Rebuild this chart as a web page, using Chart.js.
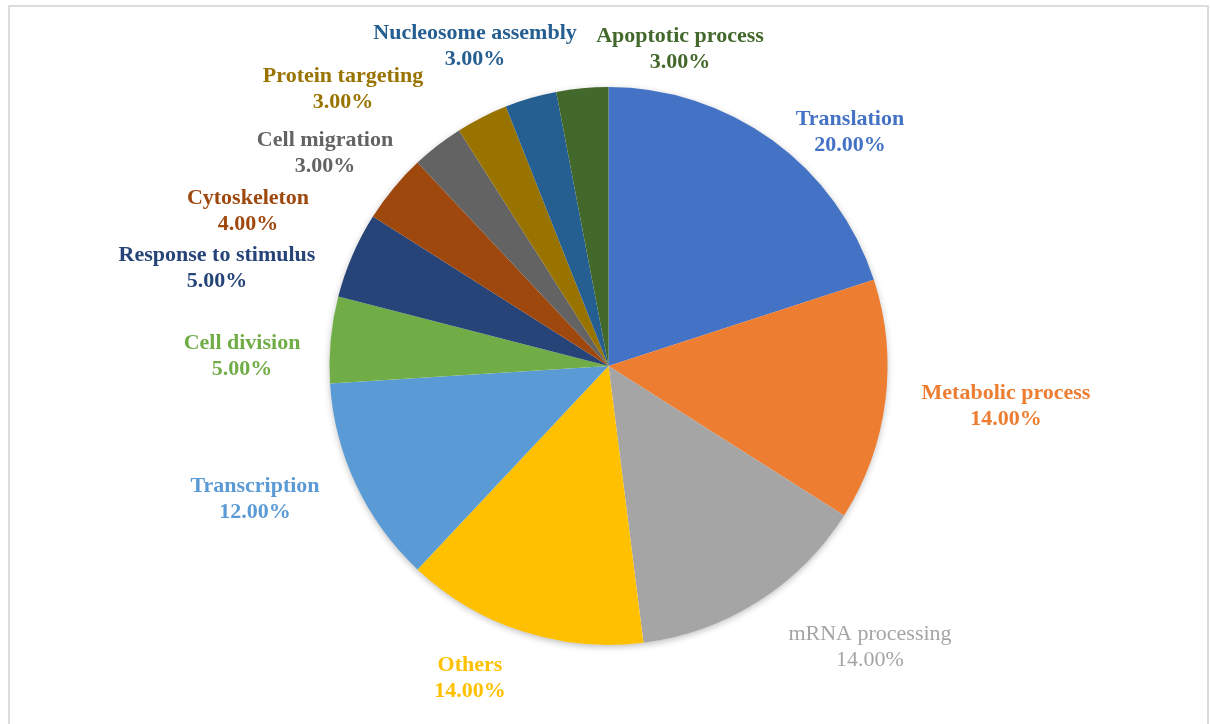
<!DOCTYPE html>
<html><head><meta charset="utf-8">
<script src="https://cdn.jsdelivr.net/npm/chart.js@4/dist/chart.umd.min.js"></script>
<style>
html,body{margin:0;padding:0;background:#fff;}
#wrap{position:relative;width:1210px;height:724px;overflow:hidden;}
#frame{position:absolute;left:8px;top:5px;width:1197px;height:730px;border:2px solid #dcdcdc;pointer-events:none;}
canvas{position:absolute;left:0;top:0;}
</style></head>
<body><div id="wrap"><canvas id="c" width="1210" height="724"></canvas><div id="frame"></div></div>
<script>
const categories = ["Translation","Metabolic process","mRNA processing","Others","Transcription","Cell division","Response to stimulus","Cytoskeleton","Cell migration","Protein targeting","Nucleosome assembly","Apoptotic process"];
const percentages = [20,14,14,14,12,5,5,4,3,3,3,3];
const sliceColors = ["#4472C4","#ED7D31","#A5A5A5","#FFC000","#5B9BD5","#70AD47","#264478","#9E480E","#636363","#997300","#255E91","#43682B"];

// label block centres relative to pie centre, in units of radius
const labelLayout = [
  [241.5,-234],[397.5,40],[261.5,281],[-138.5,312],[-353.5,133],[-366.5,-10],
  [-391.5,-98],[-360.5,-155],[-283.5,-213],[-265.5,-277],[-133.5,-320],[71.5,-317]
].map(p=>[p[0]/279,p[1]/279]);
const labelBold = [true,true,false,true,true,true,true,true,true,true,true,true];
const labelColors = ["#4472C4","#ED7D31","#A5A5A5","#FFC000","#5B9BD5","#70AD47","#264478","#9E480E","#636363","#997300","#255E91","#43682B"];

const shadowPlugin = {
  id:'shadow',
  beforeDatasetsDraw(chart){
    const arc = chart.getDatasetMeta(0).data[0];
    if(!arc) return;
    const ctx = chart.ctx;
    ctx.save();
    ctx.shadowColor='rgba(0,0,0,0.28)';
    ctx.shadowBlur=7;
    ctx.shadowOffsetX=0;
    ctx.shadowOffsetY=2;
    ctx.fillStyle='#ffffff';
    ctx.beginPath();
    ctx.arc(arc.x,arc.y,arc.outerRadius-0.5,0,Math.PI*2);
    ctx.fill();
    ctx.restore();
  }
};

const labelPlugin = {
  id:'labels',
  afterDatasetsDraw(chart){
    const meta = chart.getDatasetMeta(0);
    const ctx = chart.ctx;
    const total = percentages.reduce((a,b)=>a+b,0);
    ctx.save();
    ctx.textAlign='center';
    ctx.textBaseline='middle';
    meta.data.forEach((arc,i)=>{
      const r = arc.outerRadius;
      const x = arc.x + labelLayout[i][0]*r;
      const y = arc.y + labelLayout[i][1]*r;
      ctx.fillStyle = labelColors[i];
      ctx.font = (labelBold[i]?'bold ':'')+'22px "Liberation Serif", "Times New Roman", serif';
      ctx.fillText(categories[i], x, y-13);
      ctx.fillText((percentages[i]/total*100).toFixed(2)+'%', x, y+13);
    });
    ctx.restore();
  }
};

new Chart(document.getElementById('c'),{
  type:'pie',
  data:{labels:categories,datasets:[{data:percentages,backgroundColor:sliceColors,borderWidth:0,hoverOffset:0}]},
  options:{
    responsive:false,animation:false,
    layout:{padding:{left:7,right:0,top:87,bottom:79}},
    plugins:{legend:{display:false},tooltip:{enabled:false}}
  },
  plugins:[shadowPlugin,labelPlugin]
});
</script></body></html>
